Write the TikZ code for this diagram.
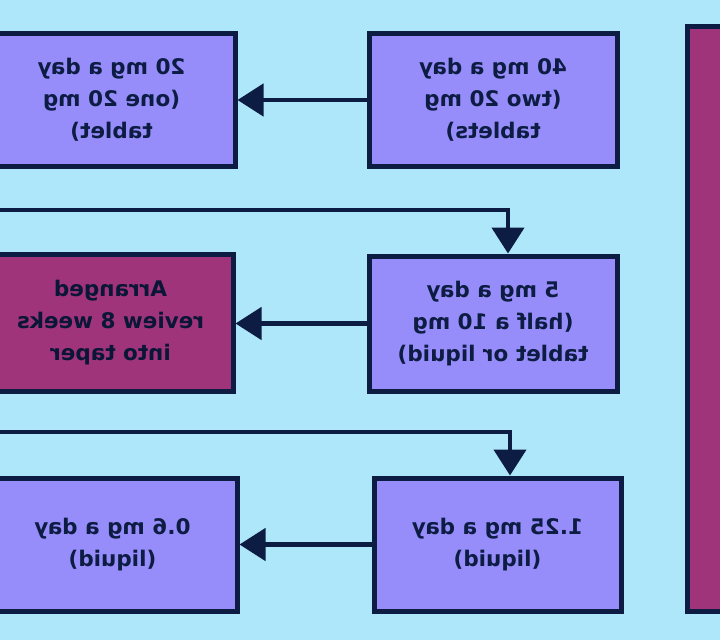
\documentclass[tikz,border=0pt]{standalone}
\usepackage{fontspec}
\usepackage{graphicx}
\setmainfont{DejaVu Sans}
\usetikzlibrary{arrows.meta}
\definecolor{bg}{RGB}{174,230,250}
\definecolor{boxfill}{RGB}{150,140,250}
\definecolor{edge}{RGB}{12,28,66}
\definecolor{plum}{RGB}{160,52,122}
\newcommand{\mtext}[1]{\reflectbox{\begin{tabular}{@{}c@{}}#1\end{tabular}}}
\begin{document}
\begin{tikzpicture}[x=1pt,y=-1pt,
  dosebox/.style={draw=edge, line width=5pt, fill=boxfill, text=edge,
    font=\bfseries\fontsize{21.5}{32}\selectfont, inner sep=0pt},
  reviewbox/.style={dosebox, fill=plum, text=edge!80!black},
  conn/.style={draw=edge, line width=4.5pt, -{Triangle[length=26pt,width=32pt]}}]
\useasboundingbox (0,0) rectangle (720,640);
\clip (0,0) rectangle (720,640);
\fill[bg] (0,0) rectangle (720,640);

% left column
\node[dosebox, minimum width=247pt, minimum height=133pt] (A) at (111.5,100) {\mtext{20 mg a day\\(one 20 mg\\tablet)}};
\node[reviewbox, minimum width=245pt, minimum height=137pt] (C) at (110.5,322.5) {\mtext{Arranged\\review 8 weeks\\into taper}};
\node[dosebox, minimum width=249pt, minimum height=133pt] (F) at (112.5,544.5) {\mtext{0.6 mg a day\\(liquid)}};

% right column
\node[dosebox, minimum width=248pt, minimum height=133pt] (B) at (493,100) {\mtext{40 mg a day\\(two 20 mg\\tablets)}};
\node[dosebox, minimum width=248pt, minimum height=135pt] (D) at (493,323.5) {\mtext{5 mg a day\\(half a 10 mg\\tablet or liquid)}};
\node[dosebox, minimum width=247pt, minimum height=133pt] (E) at (497.5,544.5) {\mtext{1.25 mg a day\\(liquid)}};

% large box at right edge
\node[reviewbox, minimum width=75pt, minimum height=585pt] (R) at (725,318.5) {};

% connectors
\coordinate (s1) at (-10,210);
\coordinate (s2) at (-10,432);
\draw[conn] (B.west) -- (A.east);
\draw[conn] (D.west) -- (D.west -| C.east);
\draw[conn] (E.west) -- (E.west -| F.east);
\draw[conn] (s1) -| ([xshift=15pt]D.north);
\draw[conn] (s2) -| ([xshift=12.5pt]E.north);
\end{tikzpicture}
\end{document}
